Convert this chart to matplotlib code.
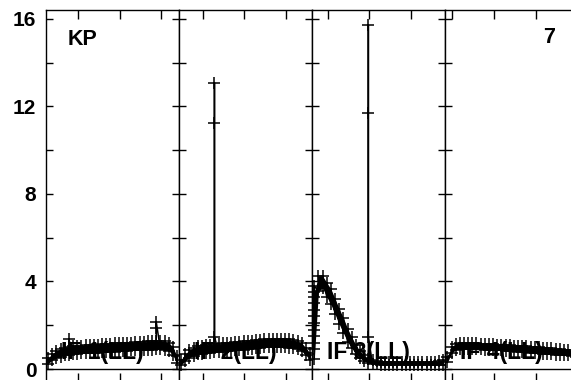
import numpy as np
import matplotlib
matplotlib.use('Agg')
import matplotlib.pyplot as plt
from matplotlib.ticker import MultipleLocator, FixedLocator

plt.rcParams['font.family'] = ['Liberation Sans', 'DejaVu Sans']

# ---------------- data ----------------
panel_labels = ["IF 1(LL)", "IF 2(LL)", "IF 3(LL)", "IF 4(LL)"]
n_chan = 32
ytick_labels = ["0", "4", "8", "12", "16"]
title_left = "KP"
title_right = "7"

if1_lo = [0.25, 0.40, 0.50, 0.57, 0.63, 0.66, 0.69, 0.70, 0.71, 0.73, 0.74, 0.75, 0.75, 0.77, 0.78, 0.80,
          0.80, 0.82, 0.82, 0.84, 0.85, 0.86, 0.87, 0.87, 0.88, 0.89, 0.90, 0.90, 0.89, 0.84, 0.63, 0.28]
if1_hi = [0.50, 0.70, 0.84, 0.92, 0.98, 1.02, 1.05, 1.06, 1.07, 1.08, 1.10, 1.11, 1.12, 1.13, 1.15, 1.16,
          1.17, 1.18, 1.19, 1.21, 1.21, 1.23, 1.23, 1.24, 1.26, 1.26, 1.27, 1.27, 1.26, 1.21, 1.00, 0.58]
if1_extra = {5: [1.35], 26: [1.86, 2.16]}

if2_lo = [0.18, 0.38, 0.52, 0.61, 0.67, 0.70, 0.72, 0.74, 0.76, 0.78, 0.80, 0.82, 0.84, 0.86, 0.87, 0.89,
          0.91, 0.93, 0.95, 0.97, 0.99, 1.00, 1.01, 1.01, 1.01, 1.00, 0.98, 0.95, 0.90, 0.81, 0.63, 0.42]
if2_hi = [0.43, 0.69, 0.87, 0.97, 1.03, 1.07, 1.09, 1.11, 1.13, 1.15, 1.17, 1.19, 1.21, 1.23, 1.24, 1.26,
          1.28, 1.30, 1.32, 1.34, 1.36, 1.37, 1.38, 1.38, 1.38, 1.37, 1.35, 1.32, 1.27, 1.17, 0.97, 0.71]
if2_extra = {8: [11.23, 13.09, 1.48]}

if3_lo = [0.45, 3.55, 3.70, 3.30, 2.95, 2.50, 2.05, 1.65, 1.25, 0.95, 0.70, 0.50, 0.36, 0.28, 0.24, 0.21,
          0.20, 0.19, 0.20, 0.19, 0.20, 0.20, 0.19, 0.20, 0.20, 0.19, 0.20, 0.20, 0.19, 0.20, 0.20, 0.20]
if3_hi = [3.50, 4.25, 4.25, 3.95, 3.65, 3.20, 2.75, 2.33, 1.85, 1.45, 1.10, 0.82, 0.62, 0.48, 0.40, 0.36,
          0.34, 0.33, 0.34, 0.33, 0.33, 0.34, 0.33, 0.33, 0.34, 0.33, 0.33, 0.34, 0.33, 0.33, 0.35, 0.42]
if3_extra = {0: [0.9, 1.2, 1.5, 1.8, 2.1, 2.4, 2.7, 3.0, 3.3, 3.8], 13: [11.7, 15.73, 1.46]}

if4_lo = [0.30, 0.72, 0.88, 0.92, 0.92, 0.92, 0.91, 0.91, 0.90, 0.89, 0.88, 0.87, 0.86, 0.85, 0.84, 0.83,
          0.81, 0.80, 0.78, 0.76, 0.74, 0.72, 0.71, 0.69, 0.68, 0.67, 0.65, 0.64, 0.63, 0.62, 0.61, 0.55]
if4_hi = [0.55, 1.02, 1.16, 1.18, 1.18, 1.18, 1.17, 1.17, 1.16, 1.15, 1.14, 1.13, 1.12, 1.11, 1.10, 1.09,
          1.07, 1.06, 1.05, 1.04, 1.02, 1.01, 1.00, 0.98, 0.96, 0.94, 0.93, 0.91, 0.89, 0.88, 0.86, 0.78]
if4_extra = {}

panels = [(if1_lo, if1_hi, if1_extra), (if2_lo, if2_hi, if2_extra),
          (if3_lo, if3_hi, if3_extra), (if4_lo, if4_hi, if4_extra)]

# ---------------- layout ----------------
W, H = 571, 380
fig = plt.figure(figsize=(W / 100, H / 100), dpi=100)
left0, pw, top_px, bot_px = 46, 133.1, 10, 382
ymin, ymax = -0.594, 16.41
xticks = np.arange(7.7, 4 * n_chan, 10)

for k, (lo, hi, extra) in enumerate(panels):
    ax = fig.add_axes([(left0 + k * pw) / W, 1 - bot_px / H, pw / W, (bot_px - top_px) / H])
    x0 = k * n_chan
    ax.set_xlim(x0, x0 + n_chan)
    ax.set_ylim(ymin, ymax)

    chan_x = [x0 + i + 0.5 for i in range(n_chan)]
    xs, ys = [], []
    for i, cx in enumerate(chan_x):
        xs += [cx, cx]
        ys += [lo[i], hi[i]]
        for v in extra.get(i, []):
            xs.append(cx)
            ys.append(v)
    ax.fill_between(chan_x, lo, hi, color='black', lw=0, zorder=3)
    ax.plot(xs, ys, color='black', lw=1.1, marker='+', ms=8.5, mew=1.1,
            zorder=4, clip_on=False)
    ax.axhline(0, color='black', lw=1.0, zorder=2)

    ax.text(x0 + 15 / 4.16, 0.45, panel_labels[k], fontsize=16.5, fontweight='bold',
            ha='left', va='baseline', zorder=1)

    ax.xaxis.set_major_locator(FixedLocator([t for t in xticks if x0 <= t <= x0 + n_chan]))
    ax.xaxis.set_ticklabels([])
    ax.tick_params(axis='x', which='both', direction='in', top=True, bottom=True,
                   length=6.5, width=1.0)
    ax.yaxis.set_major_locator(MultipleLocator(4))
    ax.yaxis.set_minor_locator(MultipleLocator(2))
    ax.tick_params(axis='y', which='both', direction='in', left=True, right=True,
                   length=5.2, width=1.0)
    if k == 0:
        ax.set_yticks([0, 4, 8, 12, 16])
        ax.set_yticklabels(ytick_labels, fontsize=15, fontweight='bold')
        ax.tick_params(axis='y', pad=7)
        ax.text(x0 + (68 - 46) / 4.16, 14.81, title_left, fontsize=15.5,
                fontweight='bold', ha='left', va='baseline')
    else:
        ax.set_yticklabels([])
    if k == 3:
        ax.text(x0 + (555 - 445.3) / 4.16, 14.9, title_right, fontsize=15.5,
                fontweight='bold', ha='right', va='baseline')
    for s in ax.spines.values():
        s.set_linewidth(1.0)

fig.savefig('out.png', dpi=100)
